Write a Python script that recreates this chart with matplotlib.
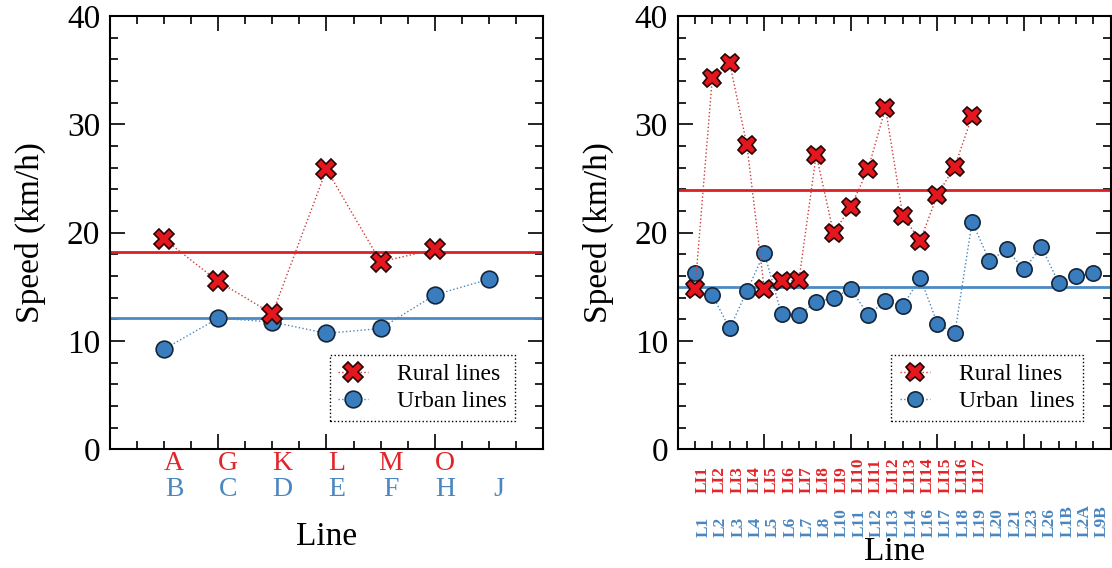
import numpy as np
import matplotlib
matplotlib.use("Agg")
import matplotlib.pyplot as plt
from matplotlib.ticker import MultipleLocator

plt.rcParams["font.family"] = ["Liberation Serif", "DejaVu Serif"]

# left panel: lettered lines
ruralLeftLabels = ["A", "G", "K", "L", "M", "O"]
ruralLeftSpeeds = [19.4, 15.5, 12.5, 25.85, 17.3, 18.45]
urbanLeftLabels = ["B", "C", "D", "E", "F", "H", "J"]
urbanLeftSpeeds = [9.25, 12.1, 11.75, 10.7, 11.15, 14.25, 15.7]

# right panel: numbered lines
ruralRightLabels = ["LI1", "LI2", "LI3", "LI4", "LI5", "LI6", "LI7", "LI8", "LI9",
	"LI10", "LI11", "LI12", "LI13", "LI14", "LI15", "LI16", "LI17"]
ruralRightSpeeds = [14.75, 34.25, 35.7, 28.05, 14.8, 15.5, 15.6, 27.2, 19.95,
	22.4, 25.9, 31.5, 21.55, 19.25, 23.5, 26.1, 30.75]
urbanRightLabels = ["L1", "L2", "L3", "L4", "L5", "L6", "L7", "L8", "L10", "L11", "L12",
	"L13", "L14", "L16", "L17", "L18", "L19", "L20", "L21", "L23", "L26", "L1B", "L2A", "L9B"]
urbanRightSpeeds = [16.3, 14.25, 11.15, 14.6, 18.15, 12.45, 12.4, 13.6, 14.0, 14.8, 12.4,
	13.7, 13.2, 15.85, 11.6, 10.7, 21.0, 17.4, 18.45, 16.6, 18.7, 15.35, 16.0, 16.25]

redFill = "#e3171d"
redEdge = "#2a0505"
redLink = "#d23a3a"
redMean = "#dc1f26"
redText = "#e0262a"
blueFill = "#3a7dbf"
blueEdge = "#14263a"
blueLink = "#4a86c0"
blueMean = "#4b8ac4"
blueText = "#4a86bf"


def drawPanel(ax, ruralSpeeds, urbanSpeeds, urbanName, xMax, majorStep, minorStep, crossSize, dotSize):
	ruralX = np.arange(1, len(ruralSpeeds) + 1)
	urbanX = np.arange(1, len(urbanSpeeds) + 1)

	ax.axhline(np.mean(ruralSpeeds), color=redMean, lw=2.0, zorder=2)
	ax.axhline(np.mean(urbanSpeeds), color=blueMean, lw=2.0, zorder=2)

	urbanLine, = ax.plot(urbanX, urbanSpeeds, ls=":", lw=1.0, color=blueLink, marker="o",
		ms=dotSize, mfc=blueFill, mec=blueEdge, mew=1.2, label=urbanName, zorder=3)
	ruralLine, = ax.plot(ruralX, ruralSpeeds, ls=":", lw=1.0, color=redLink, marker="X",
		ms=crossSize, mfc=redFill, mec=redEdge, mew=1.2, label="Rural lines", zorder=4)

	ax.set_xlim(0, xMax)
	ax.set_ylim(0, 40)
	ax.xaxis.set_major_locator(MultipleLocator(majorStep))
	ax.xaxis.set_minor_locator(MultipleLocator(minorStep))
	ax.yaxis.set_major_locator(MultipleLocator(10))
	ax.yaxis.set_minor_locator(MultipleLocator(2))
	ax.tick_params(which="both", direction="in", top=True, right=True, labelbottom=False)
	ax.tick_params(which="major", length=11, width=1.2, labelsize=24, pad=7)
	ax.tick_params(which="minor", length=5.5, width=1.2)
	for spine in ax.spines.values():
		spine.set_linewidth(1.5)

	ax.set_ylabel("Speed (km/h)", fontsize=24)
	ax.yaxis.set_label_coords(-0.148, 0.5)

	leg = ax.legend(handles=[ruralLine, urbanLine], loc="lower right", bbox_to_anchor=(0.935, 0.066),
		fontsize=17, fancybox=False, framealpha=1, edgecolor="black", borderpad=0.35,
		handlelength=1.3, handletextpad=1.2, labelspacing=0.25, borderaxespad=0)
	leg.get_frame().set_linestyle(":")
	leg.get_frame().set_linewidth(1.0)


fig = plt.figure(figsize=(11.12, 5.68), dpi=100)
axLeft = fig.add_axes([0.0989, 0.209, 0.3894, 0.7629])
axRight = fig.add_axes([0.6094, 0.209, 0.3894, 0.7629])

drawPanel(axLeft, ruralLeftSpeeds, urbanLeftSpeeds, "Urban lines", 8, 2, 0.5, 14, 12)
drawPanel(axRight, ruralRightSpeeds, urbanRightSpeeds, "Urban  lines", 25, 5, 1, 13, 11)

# letter labels under the left panel, two coloured rows
trans = axLeft.get_xaxis_transform()
for i, lab in enumerate(ruralLeftLabels):
	axLeft.text(i + 1 + 0.185, -0.032, lab, transform=trans, ha="center", va="center",
		fontsize=20, color=redText)
for i, lab in enumerate(urbanLeftLabels):
	axLeft.text(i + 1 + 0.185, -0.092, lab, transform=trans, ha="center", va="center",
		fontsize=20, color=blueText)
axLeft.set_xlabel("Line", fontsize=24)
axLeft.xaxis.label.set_va("baseline")
axLeft.xaxis.set_label_coords(0.5, -0.221)

# rotated labels under the right panel
trans = axRight.get_xaxis_transform()
for i, lab in enumerate(ruralRightLabels):
	axRight.text(i + 1 + 0.45, -0.101, lab, transform=trans, ha="center", va="bottom",
		rotation=90, fontsize=12.5, fontweight="bold", color=redText)
for i, lab in enumerate(urbanRightLabels):
	axRight.text(i + 1 + 0.5, -0.202, lab, transform=trans, ha="center", va="bottom",
		rotation=90, fontsize=12.5, fontweight="bold", color=blueText)
axRight.set_xlabel("Line", fontsize=24)
axRight.xaxis.label.set_va("baseline")
axRight.xaxis.set_label_coords(0.5, -0.255)

fig.savefig("out.png", dpi=100)
